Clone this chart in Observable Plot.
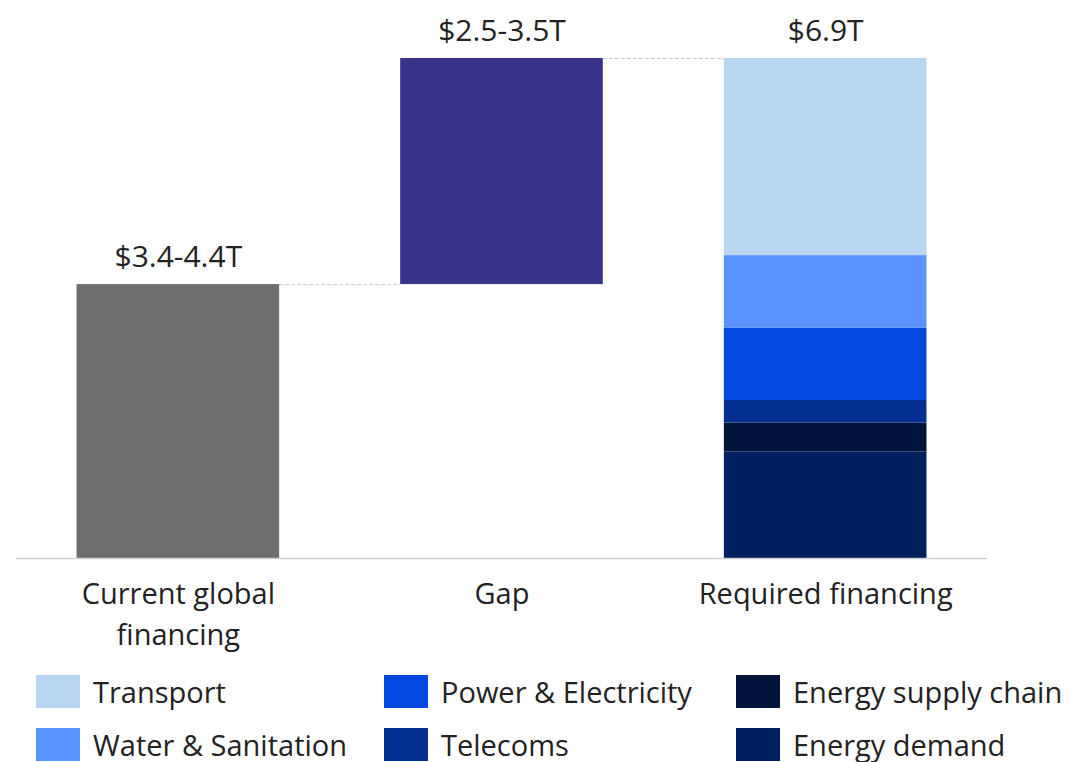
<!DOCTYPE html>
<html>
<head>
<meta charset="utf-8">
<script src="https://cdn.jsdelivr.net/npm/d3@7"></script>
<script src="https://cdn.jsdelivr.net/npm/@observablehq/plot@0.6"></script>
<style>
  body { margin: 0; background: #fff; font-family: "Open Sans", Lato, sans-serif; color: #222; }
  #chart { position: absolute; left: 0; top: 0; }
  .legend { position: absolute; left: 36px; top: 675px; display: grid;
    grid-template-columns: 348px 352px 340px; row-gap: 20px; }
  .item { display: flex; align-items: center; font-size: 29px; height: 33px; white-space: nowrap; }
  .sw { width: 44px; height: 33px; margin-right: 13px; flex: none; }
</style>
</head>
<body>
<div id="chart"></div>
<div class="legend" id="legend"></div>
<script>
// Columns of the waterfall
const categories = ["Current global\nfinancing", "Gap", "Required financing"];
const valueLabels = ["$3.4-4.4T", "$2.5-3.5T", "$6.9T"];
const currentValue = 3.78;
const totalValue = 6.9;

// Required financing breakdown (bottom to top, $T)
const sectors = ["Energy demand", "Energy supply chain", "Telecoms", "Power & Electricity", "Water & Sanitation", "Transport"];
const sectorValues = [1.47, 0.40, 0.31, 1.00, 1.00, 2.72];
const sectorColors = ["#00205f", "#00133a", "#032f91", "#0449df", "#5991fe", "#b8d5f1"];

// Legend order (as shown)
const legendOrder = ["Transport", "Power & Electricity", "Energy supply chain", "Water & Sanitation", "Telecoms", "Energy demand"];

const half = 0.313;
const rects = [];
rects.push({i: 0, y1: 0, y2: currentValue, fill: "#6d6d6d"});
rects.push({i: 1, y1: currentValue, y2: totalValue, fill: "#3a338a"});
let acc = 0;
sectors.forEach((s, k) => {
  rects.push({i: 2, y1: acc, y2: acc + sectorValues[k], fill: sectorColors[k]});
  acc += sectorValues[k];
});
const tops = [currentValue, totalValue, totalValue];
const labels = categories.map((c, i) => ({i, c, v: valueLabels[i], top: tops[i]}));
const connectors = [
  {x1: 0 + half, x2: 1 - half, y: currentValue},
  {x1: 1 + half, x2: 2 - half, y: totalValue}
];

const plot = Plot.plot({
  width: 1079,
  height: 660,
  marginTop: 58,
  marginBottom: 102,
  marginLeft: 16,
  marginRight: 92,
  x: {domain: [-0.5, 2.5], axis: null},
  y: {domain: [0, totalValue], axis: null},
  style: {fontFamily: "'Open Sans', Lato, sans-serif", color: "#222", background: "#fff"},
  marks: [
    Plot.rect(rects, {x1: d => d.i - half, x2: d => d.i + half, y1: "y1", y2: "y2", fill: "fill"}),
    Plot.ruleY(connectors, {x1: "x1", x2: "x2", y: "y", stroke: "#c8c8c8", strokeWidth: 1, strokeDasharray: "4,2"}),
    Plot.ruleY([0], {x1: -0.5, x2: 2.5, stroke: "#d0d0d0", strokeWidth: 1.5}),
    Plot.text(labels, {x: "i", y: "top", text: "v", dy: -27, fontSize: 30, fill: "#222", lineAnchor: "middle"}),
    Plot.text(labels, {x: "i", y: 0, text: "c", dy: 16, fontSize: 29, fill: "#222", lineAnchor: "top", lineHeight: 1.42})
  ]
});
document.getElementById("chart").appendChild(plot);

const colorOf = Object.fromEntries(sectors.map((s, k) => [s, sectorColors[k]]));
const leg = document.getElementById("legend");
legendOrder.forEach(s => {
  const it = document.createElement("div");
  it.className = "item";
  it.innerHTML = `<span class="sw" style="background:${colorOf[s]}"></span><span></span>`;
  it.lastChild.textContent = s;
  leg.appendChild(it);
});
</script>
</body>
</html>
